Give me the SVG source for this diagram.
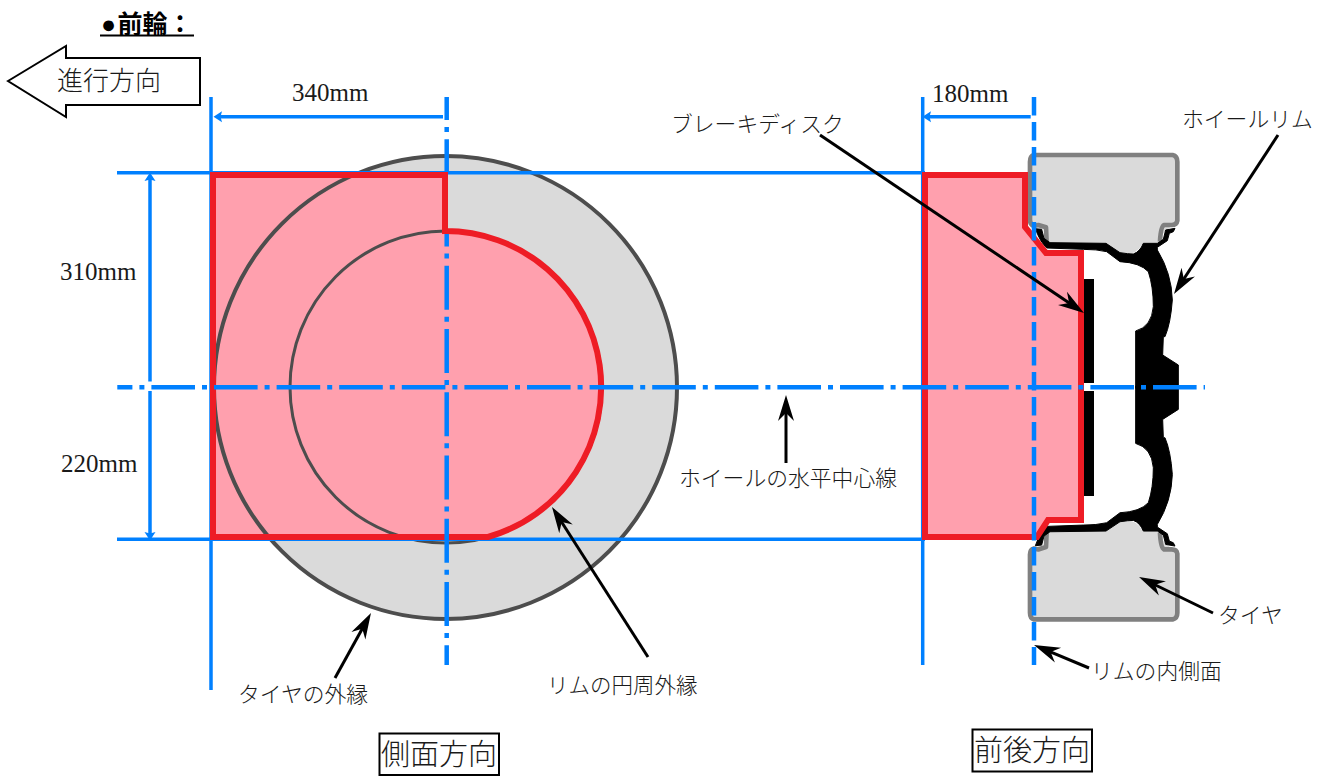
<svg xmlns="http://www.w3.org/2000/svg" xmlns:xlink="http://www.w3.org/1999/xlink" width="1328" height="776" viewBox="0 0 1328 776">
<style>
text{font-family:"Liberation Serif","Noto Sans CJK JP",serif;fill:#1a1a1a}
.jp{font-size:21.8px;font-weight:300}
.dim{font-size:25px}
.big{font-size:29px;font-weight:300}
.solid{stroke:#0080ff;stroke-width:3.5;fill:none}
.dash{stroke:#0080ff;stroke-width:4.5;fill:none}
.lead{stroke:#000;stroke-width:3;fill:none;marker-end:url(#ah)}
.red{fill:none;stroke:#ee1c25;stroke-width:6;stroke-linejoin:miter}
.pink{fill:#ffa0ae}
</style>
<defs>
<marker id="ah" markerUnits="userSpaceOnUse" markerWidth="30" markerHeight="20" viewBox="0 0 30 20" refX="18" refY="10" orient="auto"><path d="M0 2 L26 10 L0 18 L8 10Z" fill="#000"/></marker>
<marker id="bh" markerUnits="userSpaceOnUse" markerWidth="12" markerHeight="12" viewBox="0 0 12 12" refX="3" refY="6" orient="auto"><path d="M0 .5 L8.5 6 L0 11.5 L1.5 6Z" fill="#0080ff"/></marker>
<g id="wheel-half" transform="translate(900 130) scale(.33333)">
<path d="M402 75 L818 75 Q832 78 832 95 L832 272 Q830 285 815 285 L803 300 L790 310 L780 345 L725 345 Q710 372 680 372 Q650 372 620 345 L450 345 Q440 330 436 300 L415 295 L402 288 Q390 285 390 270 L390 95 Q390 78 402 75Z" fill="#dadada"/>
<path d="M440 340 L438 292 L415 285 L402 288 Q390 285 390 270 L390 95 Q390 78 402 75 L818 75 Q832 78 832 95 L832 272 Q830 285 815 285 L792 285 Q782 290 780 335" fill="none" stroke="#808080" stroke-width="14" stroke-linejoin="round"/>
<path d="M406 296 L425 298 L432 325 L450 338 L618 340 L660 368 Q685 372 700 372 Q720 365 730 340 L772 340 L790 328 L797 300 L825 295 L820 305 L808 310 L802 332 L772 352 L772 360 Q815 430 817 510 Q812 580 795 620 L790 620 L788 675 L835 705 L835 775 L707 775 L707 603 Q755 590 760 530 Q760 470 745 425 Q720 398 660 395 L620 365 Q590 358 550 358 L440 354 Q420 335 406 296Z" fill="#000" stroke="#000" stroke-width="3"/>
</g>
</defs>
<rect width="1328" height="776" fill="#fff"/>
<g id="side-view">
<circle cx="445.5" cy="387.5" r="231.5" fill="#dadada"/>
<path class="pink" d="M213 175H445V231A156 156 0 0 1 488 537H213Z"/>
<circle cx="445.5" cy="387.5" r="231.5" fill="none" stroke="#4d4d4d" stroke-width="4"/>
<circle cx="446" cy="387" r="156" fill="none" stroke="#4d4d4d" stroke-width="3"/>
</g>
<g id="front-view">
<path class="pink" d="M925 175H1025V227L1046 253H1081V520H1048L1037 537H925Z"/>
<use xlink:href="#wheel-half" href="#wheel-half"/>
<use xlink:href="#wheel-half" href="#wheel-half" transform="matrix(1 0 0 -1 0 774.4)"/>
<rect x="1084" y="279" width="10" height="104" fill="#000"/>
<rect x="1084" y="391" width="10" height="105" fill="#000"/>
</g>
<g id="reference-lines">
<path class="solid" d="M117 172.7H925M117 539.3H925M211 97V690M922.7 97V665"/>
</g>
<g id="outlines">
<path class="red" d="M213 175H445V231A156 156 0 0 1 488 537H213Z"/>
<path class="red" d="M925 175H1025V227L1046 253H1081V520H1048L1037 537H925Z"/>
</g>
<g id="center-lines">
<path class="dash" d="M117.3 387.3H1205" stroke-dasharray="43.6 7 5 7" stroke-dashoffset="28.5"/>
<path class="dash" d="M446.7 97V172" stroke-dasharray="44 7 5 7.25" stroke-dashoffset="21"/>
<path class="dash" d="M446.7 234V665" stroke-dasharray="44 7 5 7.25" stroke-dashoffset="158"/>
<path class="dash" d="M1034 97V665" stroke-dasharray="18.5 6.5"/>
</g>
<g id="connectors">
<path class="solid" d="M443 116.7H219" marker-end="url(#bh)"/>
<path class="solid" d="M1030.7 116.7H928" marker-end="url(#bh)"/>
<path class="solid" d="M150 381.5V178" marker-end="url(#bh)"/>
<path class="solid" d="M150 391V535" marker-end="url(#bh)"/>
<line class="lead" x1="820" y1="135" x2="1077.4" y2="308.5"/>
<line class="lead" x1="1278" y1="135" x2="1178.4" y2="287.3"/>
<line class="lead" x1="786" y1="463" x2="786" y2="403"/>
<line class="lead" x1="335" y1="678" x2="367.1" y2="620"/>
<line class="lead" x1="648" y1="657" x2="556.3" y2="513.7"/>
<line class="lead" x1="1213" y1="613" x2="1146.2" y2="580.5"/>
<line class="lead" x1="1089" y1="668" x2="1041.4" y2="648.1"/>
</g>
<g id="title">
<text y="33" font-size="25" font-weight="700" style="fill:#000" x="101 117.5 142.5 167.5">●前輪：</text>
<line x1="100" y1="35.5" x2="194" y2="35.5" stroke="#000" stroke-width="2"/>
</g>
<g id="direction-arrow">
<path d="M8 81 L66 46 V58 H200 V105 H66 V117Z" fill="#fff" stroke="#000" stroke-width="2"/>
<text class="big" x="57" y="90" style="font-size:26px">進行方向</text>
</g>
<g id="dimension-labels">
<text class="dim" x="292" y="101">340mm</text>
<text class="dim" x="932" y="102">180mm</text>
<text class="dim" x="60" y="280">310mm</text>
<text class="dim" x="61" y="472">220mm</text>
</g>
<g id="part-labels">
<text class="jp" x="671" y="132">ブレーキディスク</text>
<text class="jp" x="1182" y="127">ホイールリム</text>
<text class="jp" x="679" y="486">ホイールの水平中心線</text>
<text class="jp" x="238" y="702">タイヤの外縁</text>
<text class="jp" x="547" y="693" style="font-size:21.5px">リムの円周外縁</text>
<text class="jp" x="1218" y="623">タイヤ</text>
<text class="jp" x="1091" y="679">リムの内側面</text>
</g>
<g id="side-caption">
<rect x="379.5" y="733.5" width="119.5" height="41.5" fill="#fff" stroke="#000" stroke-width="2"/>
<text class="big" x="381" y="765">側面方向</text>
</g>
<g id="front-caption">
<rect x="972.5" y="729.5" width="119.5" height="42" fill="#fff" stroke="#000" stroke-width="2"/>
<text class="big" x="974" y="761">前後方向</text>
</g>
</svg>
